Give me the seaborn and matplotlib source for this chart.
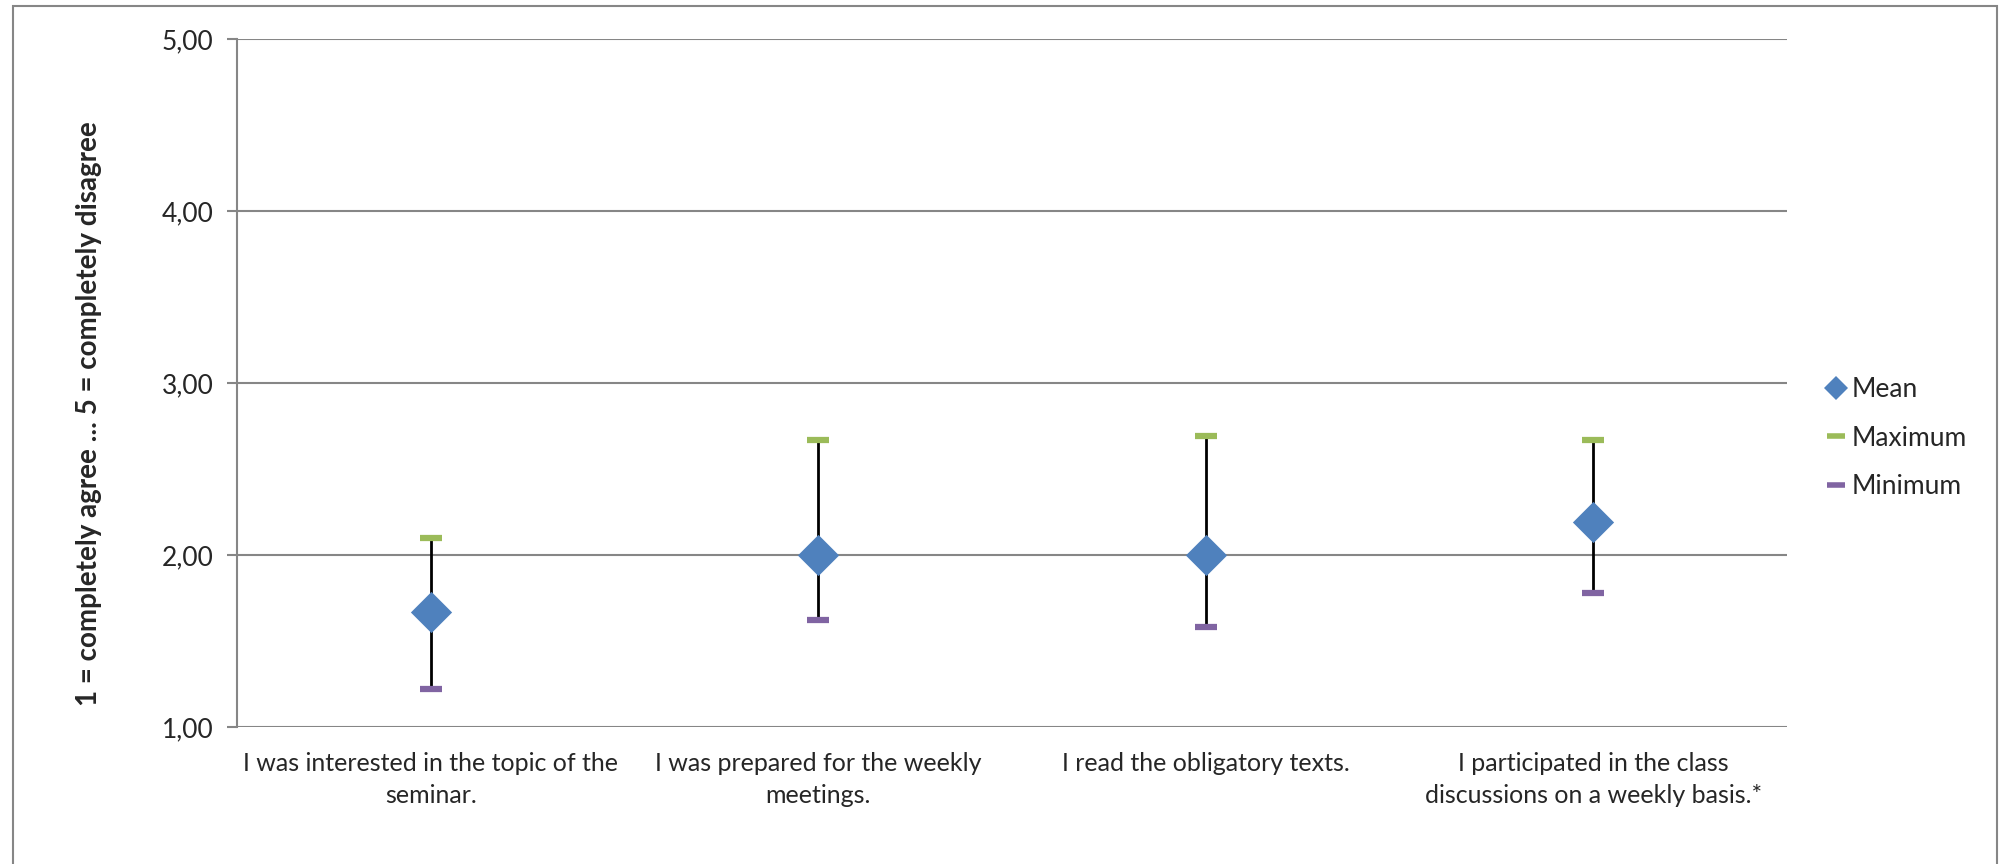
import numpy as np
import pandas as pd
import matplotlib
matplotlib.use("Agg")
import matplotlib.pyplot as plt
import seaborn as sns
from matplotlib.patches import Rectangle
from matplotlib.lines import Line2D
from matplotlib.ticker import FuncFormatter

# Data
items = [
    "I was interested in the topic of the\nseminar.",
    "I was prepared for the weekly\nmeetings.",
    "I read the obligatory texts.",
    "I participated in the class\ndiscussions on a weekly basis.*",
]
mean_vals = [1.67, 2.00, 2.00, 2.19]
max_vals = [2.10, 2.67, 2.69, 2.67]
min_vals = [1.22, 1.62, 1.58, 1.78]
y_ticks = [1, 2, 3, 4, 5]

BLUE = "#4F81BD"
GREEN = "#9BBB59"
PURPLE = "#8064A2"
GRID = "#868686"

sns.set_theme(style="white")
plt.rcParams["font.family"] = ["Lato", "DejaVu Sans"]

df = pd.DataFrame({"item": items, "mean": mean_vals, "max": max_vals, "min": min_vals})
df["pos"] = np.arange(len(items))

fig = plt.figure(figsize=(20, 8.64), dpi=100)
ax = fig.add_axes([237 / 2000, 1 - 727 / 864, (1787 - 237) / 2000, (727 - 39) / 864])

# outer chart frame
fig.patches.append(Rectangle((13 / 2000, -0.05), (1997 - 13) / 2000, 1.05 - 6 / 864,
                             transform=fig.transFigure, fill=False,
                             edgecolor=GRID, linewidth=1.5, zorder=0))

# gridlines
for t in y_ticks:
    ax.axhline(t, color=GRID, linewidth=1.5, zorder=0)

# whiskers
ax.vlines(df["pos"], df["min"], df["max"], color="black", linewidth=2, zorder=2)

sns.scatterplot(data=df, x="pos", y="max", marker="_", s=16 ** 2, color=GREEN,
                linewidth=4.5, ax=ax, zorder=3, legend=False)
sns.scatterplot(data=df, x="pos", y="min", marker="_", s=16 ** 2, color=PURPLE,
                linewidth=4.5, ax=ax, zorder=3, legend=False)
sns.scatterplot(data=df, x="pos", y="mean", marker="D", s=21 ** 2, color=BLUE,
                edgecolor=BLUE, linewidth=0, ax=ax, zorder=4, legend=False)

ax.set_xlim(-0.5, len(items) - 0.5)
ax.set_ylim(1, 5)
ax.set_yticks(y_ticks)
ax.yaxis.set_major_formatter(FuncFormatter(lambda v, p: f"{v:.2f}".replace(".", ",")))
ax.set_xticks(df["pos"])
ax.set_xticklabels(items, fontsize=18, linespacing=1.45)
ax.tick_params(axis="y", labelsize=19, left=True, length=7, width=1.5, color=GRID, pad=10)
ax.tick_params(axis="x", bottom=False, pad=12)
ax.set_xlabel("")
ax.set_ylabel("")

for s in ["top", "right", "bottom"]:
    ax.spines[s].set_visible(False)
ax.spines["left"].set_color(GRID)
ax.spines["left"].set_linewidth(1.5)

fig.text(89 / 2000, 1 - 414 / 864, "1 = completely agree ... 5 = completely disagree",
         rotation=90, ha="center", va="center", fontsize=20, fontweight="bold")

handles = [
    Line2D([], [], linestyle="none", marker="D", markersize=12, color=BLUE, markeredgewidth=0),
    Line2D([], [], linestyle="none", marker="_", markersize=13, color=GREEN, markeredgewidth=4),
    Line2D([], [], linestyle="none", marker="_", markersize=13, color=PURPLE, markeredgewidth=4),
]
ax.legend(handles, ["Mean", "Maximum", "Minimum"],
          loc="center left", bbox_to_anchor=(1815 / 2000, 1 - 438 / 864),
          bbox_transform=fig.transFigure, frameon=False, fontsize=19,
          handlelength=0.6, handletextpad=0.3, labelspacing=0.9, borderpad=0)

fig.savefig("out.png", dpi=100, facecolor="white")
